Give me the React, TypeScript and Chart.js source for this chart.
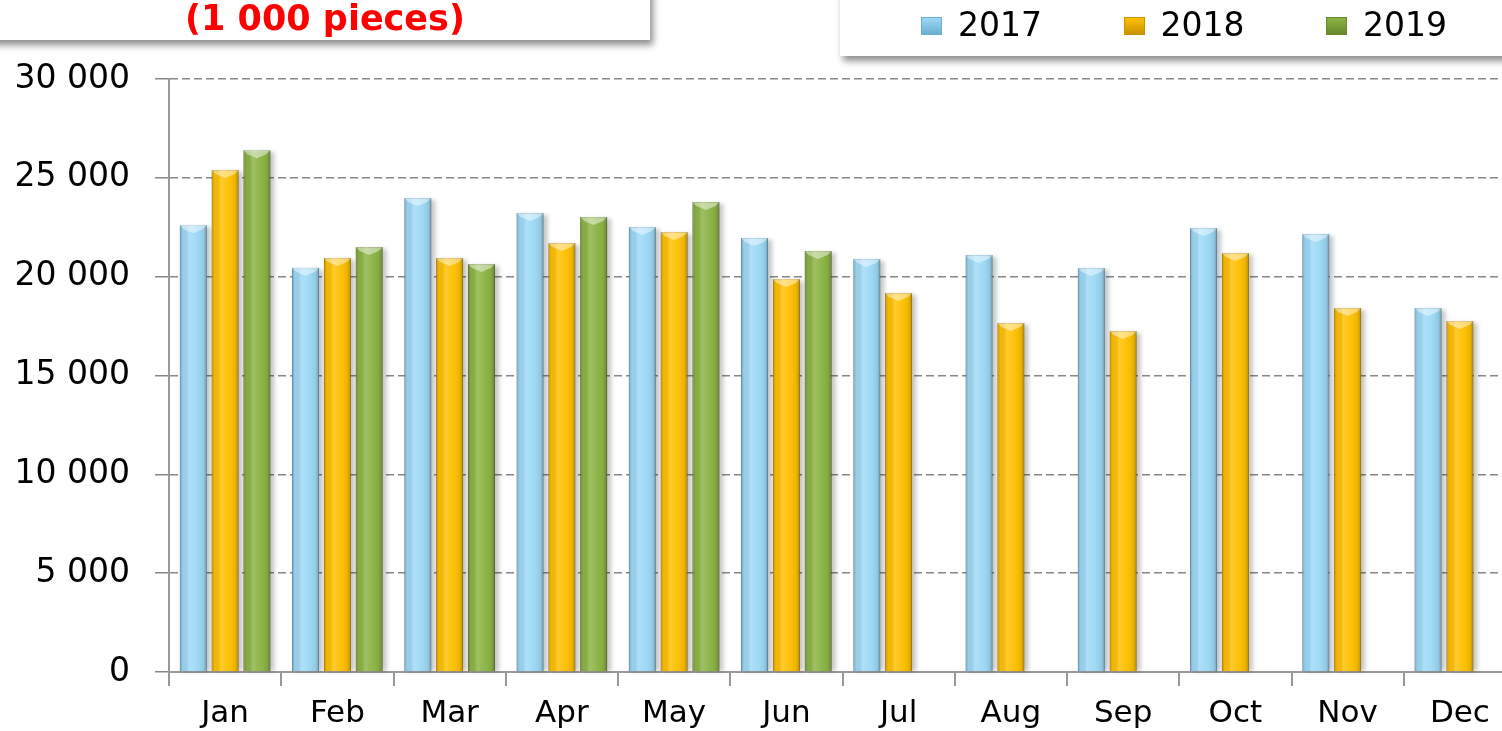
import React, { useEffect, useRef } from "react";
import { Chart, registerables } from "chart.js";

Chart.register(...registerables);

const months = ["Jan", "Feb", "Mar", "Apr", "May", "Jun", "Jul", "Aug", "Sep", "Oct", "Nov", "Dec"];
const seriesNames = ["2017", "2018", "2019"];
const values2017 = [22600, 20450, 23980, 23220, 22510, 21960, 20890, 21100, 20440, 22460, 22160, 18410];
const values2018 = [25400, 20950, 20950, 21700, 22260, 19880, 19170, 17660, 17250, 21200, 18410, 17760];
const values2019 = [26400, 21500, 20640, 23020, 23780, 21300, null, null, null, null, null, null];
const seriesColors = ["#9DD9F6", "#FFC000", "#8BB443"];
const seriesEdges = ["#6AAFD0", "#C99400", "#68892C"];
const yMin = 0;
const yMax = 30000;
const yStep = 5000;
const titleText = "(1 000 pieces)";

const FONT = "'DejaVu Sans', 'Open Sans', sans-serif";

const barStylePlugin = {
  id: "barStyle",
  beforeDatasetsDraw(chart: any) {
    const ctx = chart.ctx;
    chart.data.datasets.forEach((ds: any, i: number) => {
      const meta = chart.getDatasetMeta(i);
      meta.data.forEach((bar: any, j: number) => {
        if (ds.data[j] == null) return;
        const { x, y, base, width } = bar.getProps(["x", "y", "base", "width"], true);
        ctx.save();
        ctx.fillStyle = "rgba(0,0,0,0.22)";
        ctx.filter = "blur(2px)";
        ctx.fillRect(x - width / 2 + 3, y + 2, width + 1, base - y - 2);
        ctx.restore();
      });
    });
  },
  afterDatasetsDraw(chart: any) {
    const ctx = chart.ctx;
    chart.data.datasets.forEach((ds: any, i: number) => {
      const meta = chart.getDatasetMeta(i);
      meta.data.forEach((bar: any, j: number) => {
        if (ds.data[j] == null) return;
        const { x, y, base, width } = bar.getProps(["x", "y", "base", "width"], true);
        const l = x - width / 2;
        const r = x + width / 2;
        ctx.save();
        const g = ctx.createLinearGradient(l, 0, r, 0);
        g.addColorStop(0, "rgba(0,0,0,0.22)");
        g.addColorStop(0.12, "rgba(0,0,0,0.04)");
        g.addColorStop(0.35, "rgba(255,255,255,0.18)");
        g.addColorStop(0.6, "rgba(255,255,255,0.04)");
        g.addColorStop(0.88, "rgba(0,0,0,0.08)");
        g.addColorStop(1, "rgba(0,0,0,0.28)");
        ctx.fillStyle = g;
        ctx.fillRect(l, y, width, base - y);
        ctx.beginPath();
        ctx.moveTo(l, y);
        ctx.lineTo(r, y);
        ctx.lineTo(r - 4, y + 4);
        ctx.lineTo(x, y + 8);
        ctx.lineTo(l + 4, y + 4);
        ctx.closePath();
        ctx.fillStyle = "rgba(255,255,255,0.45)";
        ctx.fill();
        ctx.restore();
      });
    });
  },
};

export default function App() {
  const canvasRef = useRef<HTMLCanvasElement | null>(null);

  useEffect(() => {
    const canvas = canvasRef.current;
    if (!canvas) return;
    const seriesValues = [values2017, values2018, values2019];
    const chart = new Chart(canvas, {
      type: "bar",
      data: {
        labels: months,
        datasets: seriesNames.map((name, i) => ({
          label: name,
          data: seriesValues[i],
          backgroundColor: seriesColors[i],
          borderColor: seriesEdges[i],
          borderWidth: 1,
          categoryPercentage: 0.85,
          barPercentage: 0.85,
        })),
      },
      options: {
        responsive: false,
        animation: false,
        devicePixelRatio: 1,
        layout: { padding: { top: 79, left: 0, right: 0, bottom: 0 } },
        plugins: {
          legend: { display: false },
          tooltip: { enabled: false },
        },
        scales: {
          x: {
            offset: true,
            grid: {
              display: true,
              offset: true,
              drawOnChartArea: false,
              drawTicks: true,
              tickLength: 14,
              color: "#999999",
              lineWidth: 2,
            },
            border: { display: true, color: "#999999", width: 2 },
            ticks: {
              color: "#000000",
              font: { family: FONT, size: 31 },
              padding: 9,
              maxRotation: 0,
              autoSkip: false,
            },
            afterFit: (scale: any) => {
              scale.height = 59;
            },
          },
          y: {
            min: yMin,
            max: yMax,
            grid: {
              color: "#888888",
              lineWidth: 1.5,
              tickLength: 14,
              tickBorderDash: [],
              tickColor: "#888888",
            },
            border: { display: true, color: "#999999", width: 2, dash: [8, 4] },
            ticks: {
              stepSize: yStep,
              color: "#000000",
              font: { family: FONT, size: 33 },
              padding: 25,
              callback: (v: any) => (Number(v) === 0 ? "0" : `${Number(v) / 1000} 000`),
            },
            afterFit: (scale: any) => {
              scale.width = 169;
            },
          },
        },
      },
      plugins: [barStylePlugin],
    });
    return () => chart.destroy();
  }, []);

  return (
    <div
      style={{
        position: "fixed",
        left: 0,
        top: 0,
        width: 1502,
        height: 731,
        overflow: "hidden",
        background: "#ffffff",
      }}
    >
      <div style={{ position: "absolute", left: 0, top: 0, width: 1516, height: 731 }}>
        <canvas ref={canvasRef} width={1516} height={731} />
      </div>
      <div
        style={{
          position: "absolute",
          left: -10,
          top: -20,
          width: 660,
          height: 60,
          background: "#ffffff",
          boxShadow: "3px 5px 7px rgba(0,0,0,0.45)",
        }}
      />
      <div
        style={{
          position: "absolute",
          left: 0,
          top: -3,
          width: 650,
          textAlign: "center",
          color: "#FF0000",
          fontFamily: FONT,
          fontWeight: "bold",
          fontSize: 35,
          lineHeight: "42px",
        }}
      >
        {titleText}
      </div>
      <div
        style={{
          position: "absolute",
          left: 840,
          top: -10,
          width: 700,
          height: 66,
          background: "#ffffff",
          boxShadow: "3px 5px 7px rgba(0,0,0,0.45)",
        }}
      />
      {seriesNames.map((name, i) => (
        <React.Fragment key={name}>
          <div
            style={{
              position: "absolute",
              left: 921 + i * 202.5,
              top: 17,
              width: 21,
              height: 18,
              background: `linear-gradient(180deg, ${seriesColors[i]} 0%, ${seriesEdges[i]} 100%)`,
              border: `1px solid ${seriesEdges[i]}`,
              boxSizing: "border-box",
            }}
          />
          <div
            style={{
              position: "absolute",
              left: 958 + i * 202.5,
              top: 5,
              fontFamily: FONT,
              fontSize: 33,
              lineHeight: "40px",
              color: "#000000",
            }}
          >
            {name}
          </div>
        </React.Fragment>
      ))}
    </div>
  );
}
